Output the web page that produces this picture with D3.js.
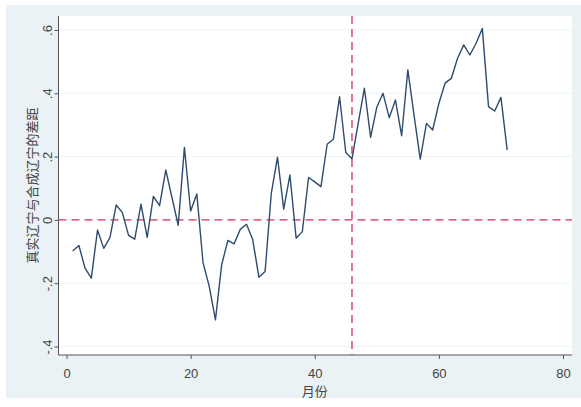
<!DOCTYPE html>
<html><head><meta charset="utf-8">
<script src="https://cdn.jsdelivr.net/npm/d3@7"></script>
<style>body{margin:0;background:#fff}svg{display:block}</style>
</head><body>
<script>
const months = d3.range(1, 72);
const gap = [-0.098,-0.081,-0.153,-0.184,-0.032,-0.090,-0.056,0.047,0.023,-0.049,
  -0.061,0.050,-0.055,0.074,0.045,0.158,0.070,-0.017,0.229,0.028,
  0.082,-0.135,-0.210,-0.316,-0.142,-0.065,-0.076,-0.030,-0.014,-0.062,
  -0.181,-0.163,0.084,0.198,0.034,0.142,-0.058,-0.037,0.134,0.120,
  0.105,0.239,0.255,0.389,0.213,0.193,0.305,0.416,0.261,0.356,
  0.400,0.323,0.379,0.266,0.474,0.330,0.192,0.305,0.284,0.368,
  0.432,0.447,0.510,0.553,0.521,0.558,0.605,0.358,0.344,0.387,0.221];
const xTicks = [0, 20, 40, 60, 80];
const yTicks = [-0.4, -0.2, 0, 0.2, 0.4, 0.6];
const yTickLabels = ["-.4", "-.2", "0", ".2", ".4", ".6"];
const treatMonth = [46];
const xTitle = "月份";
const yTitle = "真实辽宁与合成辽宁的差距";

const W = 581, H = 407;
const svg = d3.select("body").append("svg").attr("width", W).attr("height", H);
svg.append("rect").attr("x", 6).attr("y", 5).attr("width", 575).attr("height", 393).attr("fill", "#eaf2f5");
const plot = {l: 58.5, r: 572, t: 16, b: 355};
svg.append("rect").attr("x", plot.l).attr("y", plot.t).attr("width", plot.r - plot.l).attr("height", plot.b - plot.t).attr("fill", "#fff");

const x = d3.scaleLinear().domain([0, 80]).range([66.5, 563]);
const y = d3.scaleLinear().domain([-0.4, 0.6]).range([346.5, 30]);

// grid
svg.append("g").selectAll("line").data(yTicks.filter(d => d !== 0)).join("line")
  .attr("x1", plot.l).attr("x2", plot.r).attr("y1", d => y(d)).attr("y2", d => y(d))
  .attr("stroke", "#eef3f5").attr("stroke-width", 1);

const font = "'Liberation Sans', Arial, sans-serif";
// y axis
const yAxis = d3.axisLeft(y).tickValues(yTicks).tickSize(4).tickPadding(4)
  .tickFormat((d, i) => yTickLabels[i]);
const gy = svg.append("g").attr("transform", `translate(${plot.l},0)`).call(yAxis);
gy.select(".domain").attr("d", `M0,${plot.t}V${plot.b}`).attr("stroke", "#555");
gy.selectAll(".tick line").attr("stroke", "#555");
gy.selectAll(".tick text").attr("transform", "rotate(-90)").attr("x", 0).attr("y", -7)
  .attr("dy", "0").attr("text-anchor", "middle")
  .style("font-family", font).style("font-size", "13px").attr("fill", "#444");

// x axis
const xAxis = d3.axisBottom(x).tickValues(xTicks).tickSize(4).tickPadding(10);
const gx = svg.append("g").attr("transform", `translate(0,${plot.b})`).call(xAxis);
gx.select(".domain").attr("d", `M${plot.l},0H${plot.r}`).attr("stroke", "#555");
gx.selectAll(".tick line").attr("stroke", "#555");
gx.selectAll(".tick text").style("font-family", font).style("font-size", "13px").attr("fill", "#444");

// reference lines
svg.append("line").attr("x1", plot.l).attr("x2", plot.r).attr("y1", y(0)).attr("y2", y(0))
  .attr("stroke", "#d0315c").attr("stroke-width", 1.3).attr("stroke-dasharray", "8,5");
svg.selectAll(".vline").data(treatMonth).join("line")
  .attr("x1", d => x(d)).attr("x2", d => x(d)).attr("y1", plot.t).attr("y2", plot.b)
  .attr("stroke", "#d0315c").attr("stroke-width", 1.3).attr("stroke-dasharray", "8,5");

// series
const line = d3.line().x((d, i) => x(months[i])).y(d => y(d));
svg.append("path").datum(gap).attr("d", line).attr("fill", "none")
  .attr("stroke", "#2e4c6d").attr("stroke-width", 1.4).attr("stroke-linejoin", "round");

// titles
svg.append("text").attr("x", x(40)).attr("y", 396).attr("text-anchor", "middle")
  .style("font-family", "'Noto Sans CJK SC', sans-serif").style("font-size", "13px").attr("fill", "#444").text(xTitle);
svg.append("text").attr("transform", `translate(37,${(plot.t + plot.b) / 2}) rotate(-90)`)
  .attr("text-anchor", "middle")
  .style("font-family", "'Noto Sans CJK SC', sans-serif").style("font-size", "13px").attr("fill", "#444").text(yTitle);
</script>
</body></html>
